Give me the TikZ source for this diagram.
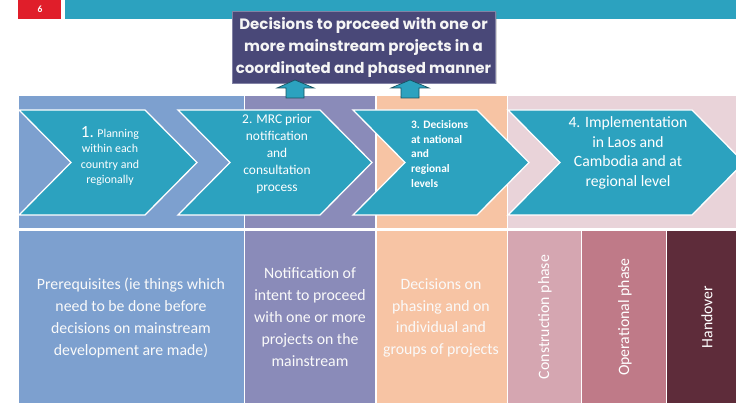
\documentclass[tikz,border=0pt]{standalone}
\usepackage{fontspec}
\setmainfont{Carlito}
\newfontfamily\gothic{Poppins}
\usetikzlibrary{shadows}

\definecolor{tealbar}{RGB}{44,162,191}
\definecolor{slidered}{RGB}{224,30,42}
\definecolor{decbox}{RGB}{73,72,120}
\definecolor{decline}{RGB}{130,130,165}
\definecolor{planblue}{RGB}{125,160,207}
\definecolor{mrcpurple}{RGB}{138,139,185}
\definecolor{natpeach}{RGB}{247,196,164}
\definecolor{implpink}{RGB}{233,211,217}
\definecolor{constrpink}{RGB}{213,166,177}
\definecolor{operrose}{RGB}{191,122,136}
\definecolor{handmaroon}{RGB}{94,44,58}

\begin{document}
\begin{tikzpicture}[x=1pt, y=-1pt,
      every node/.append style={align=center, text=white, inner sep=0pt},
      chev/.style={fill=tealbar, draw=white, line width=1.3pt, line join=miter},
      uparrow/.style={fill=tealbar, draw=tealbar!50!black, line width=0.7pt},
      steptext/.style={font=\fontsize{13.4}{17}\selectfont},
      coltext/.style={font=\fontsize{15.8}{21.8}\selectfont, text=white!96!gray},
      phasetext/.style={font=\fontsize{15.8}{17}\selectfont, rotate=90}]

     \useasboundingbox (0,0) rectangle (736,403);

     % header strip
     \fill[slidered] (18,0) rectangle (61,19);
     \fill[tealbar] (65,0) rectangle (736,19);
     \node[font=\bfseries\fontsize{9.5}{10}\selectfont] (page) at (40,9.5) {6};

     % top band
     \fill[planblue]  (19,96)  rectangle (244,228);
     \fill[mrcpurple] (245,96) rectangle (375,228);
     \fill[natpeach]  (377,96) rectangle (507,228);
     \fill[implpink]  (508,96) rectangle (736,228);

     % bottom band
     \fill[planblue]   (19,231)  rectangle (244,403);
     \fill[mrcpurple]  (245,231) rectangle (375,403);
     \fill[natpeach]   (377,231) rectangle (507,403);
     \fill[constrpink] (508,231) rectangle (581,403);
     \fill[operrose]   (582,231) rectangle (666,403);
     \fill[handmaroon] (667,231) rectangle (736,403);

     % chevrons
     \draw[chev] (19,110) -- (145,110) -- (197,162.5) -- (145,215) -- (19,215) -- (71,162.5) -- cycle;
     \draw[chev] (178,110) -- (320,110) -- (372,162.5) -- (320,215) -- (178,215) -- (230,162.5) -- cycle;
     \draw[chev] (353,110) -- (477,110) -- (529,162.5) -- (477,215) -- (353,215) -- (405,162.5) -- cycle;
     \draw[chev] (508,110) -- (692,110) -- (744,162.5) -- (692,215) -- (508,215) -- (560,162.5) -- cycle;

     \node[font=\fontsize{11.9}{15.3}\selectfont] (plan) at (110,156)
          {{\fontsize{17}{16}\selectfont 1.} Planning\\within each\\country and\\regionally};
     \node[steptext] (mrc) at (277,154)
          {2. MRC prior\\notification\\and\\consultation\\process};
     \node[font=\bfseries\fontsize{11.4}{14.8}\selectfont, align=left, anchor=west] (nat) at (411,154)
          {3. Decisions\\at national\\and\\regional\\levels};
     \node[font=\fontsize{15.7}{19.4}\selectfont] (impl) at (628,153)
          {4. Implementation\\in Laos and\\Cambodia and at\\regional level};

     % decision box and arrows
     \node[fill=decbox, draw=decline, line width=0.8pt, minimum width=263pt, minimum height=72pt,
           drop shadow={opacity=0.35, shadow xshift=1.5pt, shadow yshift=-1.5pt},
           font=\gothic\bfseries\fontsize{15}{22}\selectfont, text=white!92!gray] (decide) at (363.5,47)
          {Decisions to proceed with one or\\more mainstream projects in a\\coordinated and phased manner};
     \draw[uparrow] (286,98) -- (286,88) -- (277,88) -- (295,80) -- (314,88) -- (304,88) -- (304,98) -- cycle;
     \draw[uparrow] (401,98) -- (401,88) -- (391,88) -- (410,80) -- (429,88) -- (419,88) -- (419,98) -- cycle;

     % column texts
     \node[coltext] (prereq) at (131,318)
          {Prerequisites (ie things which\\need to be done before\\decisions on mainstream\\development are made)};
     \node[coltext] (notif) at (310,317)
          {Notification of\\intent to proceed\\with one or more\\projects on the\\mainstream};
     \node[coltext] (phasing) at (441,318)
          {Decisions on\\phasing and on\\individual and\\groups of projects};
     \node[phasetext] (constr) at (545,317) {Construction phase};
     \node[phasetext] (oper) at (625,317) {Operational phase};
     \node[phasetext] (hand) at (707,317) {Handover};
  \end{tikzpicture}
\end{document}
